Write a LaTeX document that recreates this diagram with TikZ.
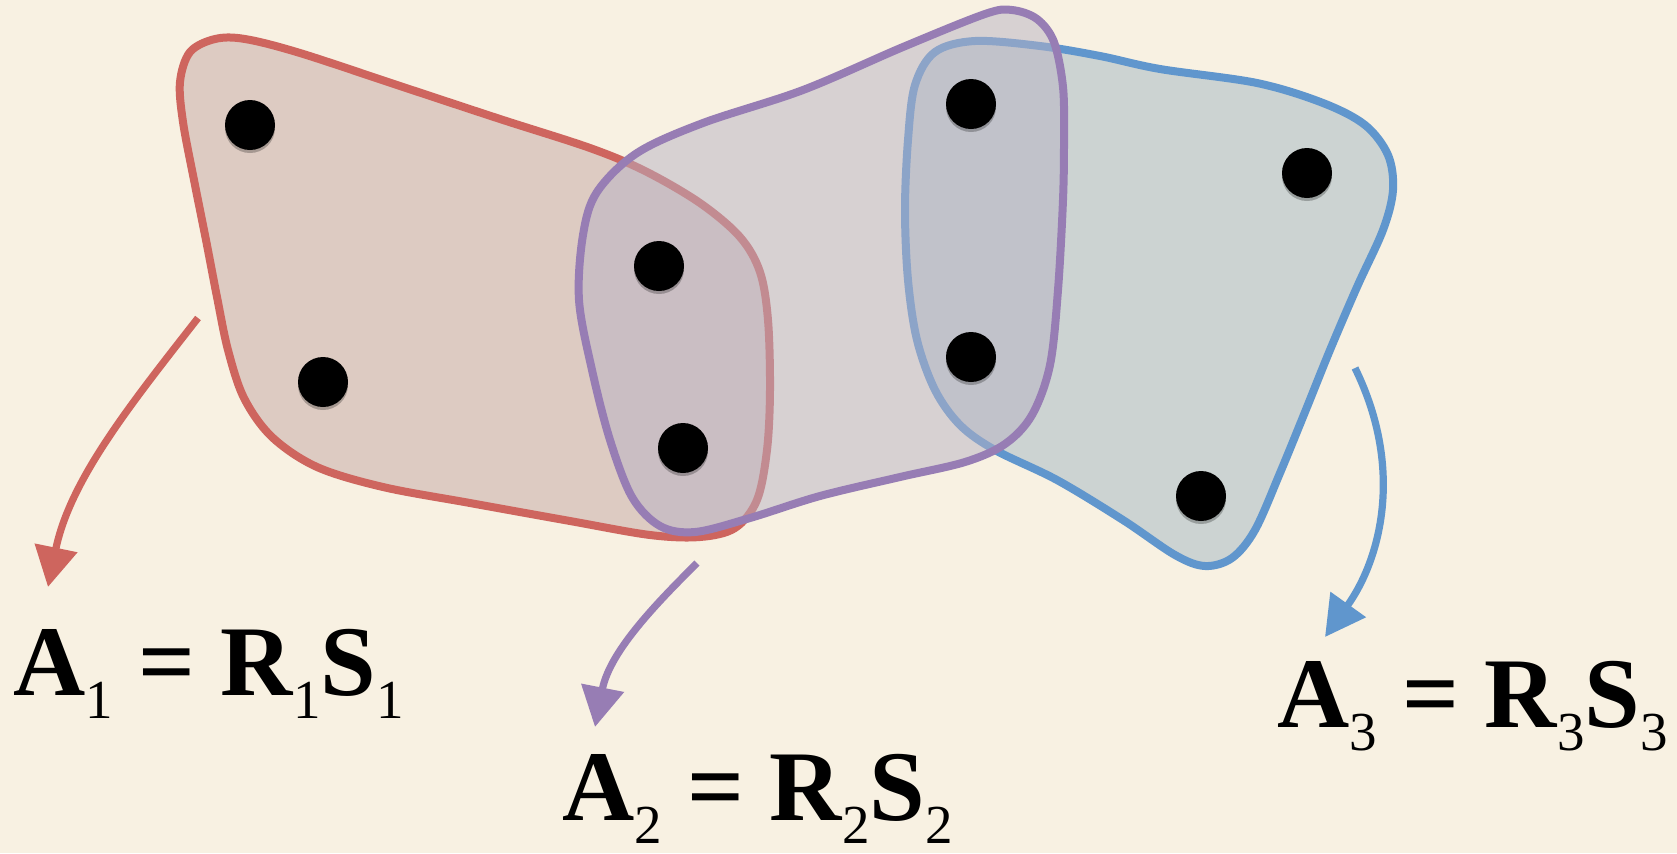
\documentclass[tikz,border=0pt]{standalone}
\usepackage{fontspec}
\setmainfont{Liberation Serif}
\usetikzlibrary{arrows.meta,shadows}
\definecolor{bg}{RGB}{248,241,226}
\definecolor{redL}{RGB}{206,101,94}
\definecolor{purL}{RGB}{151,125,180}
\definecolor{bluL}{RGB}{96,150,205}
\definecolor{redF}{RGB}{196,166,164}
\definecolor{purF}{RGB}{184,178,196}
\definecolor{bluF}{RGB}{162,182,196}
\newcommand{\sbx}[1]{\raisebox{-11.5pt}{\fontsize{27.5}{30}\selectfont\mdseries #1}}
\tikzset{
  region/.style={line width=4pt, fill opacity=0.5, line join=round},
  dot/.style={circle, fill=black, minimum size=25pt, inner sep=0pt,
    drop shadow={shadow xshift=0pt, shadow yshift=-1.5pt, opacity=0.25, fill=black}},
  conn/.style={line width=3.6pt, -{Triangle[length=20pt,width=21pt]}},
  lab/.style={anchor=base west, inner sep=0pt, font=\fontsize{50}{55}\selectfont}
}
\begin{document}
\begin{tikzpicture}[x=0.5pt,y=-0.5pt]
\useasboundingbox (0,0) rectangle (1677,853);
\fill[bg] (0,0) rectangle (1677,853);

% red region
\draw[region, draw=redL, fill=redF] plot[smooth cycle, tension=0.55] coordinates {
 (190,52) (215,39) (245,39) (300,53) (400,86) (500,119) (590,148) (645,171)
 (700,203) (740,237) (760,272) (768,320) (770,390) (767,450) (757,500) (735,528)
 (700,537) (650,535) (570,521) (470,503) (383,487) (317,467) (272,437) (244,398)
 (228,350) (217,297) (206,240) (194,180) (183,122) (180,82)};

% blue region
\draw[region, draw=bluL, fill=bluF] plot[smooth cycle, tension=0.55] coordinates {
 (935,52) (975,41) (1040,46) (1100,56) (1160,69) (1257,83) (1323,103) (1365,125)
 (1388,155) (1393,190) (1383,230) (1357,287) (1330,350) (1305,412) (1280,473)
 (1255,530) (1232,558) (1205,566) (1175,555) (1123,520) (1057,480) (995,450)
 (960,425) (935,390) (917,340) (908,280) (905,210) (908,140) (915,85)};

% purple region
\draw[region, draw=purL, fill=purF] plot[smooth cycle, tension=0.55] coordinates {
 (579,300) (583,235) (597,192) (637,153) (703,123) (803,90) (903,47)
 (985,14) (1012,10) (1037,19) (1054,42) (1063,87) (1064,140) (1063,200)
 (1058,290) (1050,365) (1032,415) (1005,444) (965,462) (900,477) (820,496)
 (750,518) (695,532) (660,526) (632,497) (610,440) (592,370)};

% dots
\node[dot] (d1) at (250,125) {};
\node[dot] (d2) at (323,382) {};
\node[dot] (d3) at (659,266) {};
\node[dot] (d4) at (683,448) {};
\node[dot] (d5) at (971,104) {};
\node[dot] (d6) at (971,357) {};
\node[dot] (d7) at (1307,173) {};
\node[dot] (d8) at (1201,496) {};

% labels
\node[lab] (lab1) at (13,695) {\textbf{A}\sbx{1} \textbf{=} \textbf{R}\sbx{1}\textbf{S}\sbx{1}};
\node[lab] (lab2) at (562,820) {\textbf{A}\sbx{2} \textbf{=} \textbf{R}\sbx{2}\textbf{S}\sbx{2}};
\node[lab] (lab3) at (1277,727) {\textbf{A}\sbx{3} \textbf{=} \textbf{R}\sbx{3}\textbf{S}\sbx{3}};

% arrows
\coordinate (r0) at (198,318);
\coordinate (r1) at (48,587);
\coordinate (p0) at (697,563);
\coordinate (p1) at (595,727);
\coordinate (b0) at (1355,368);
\coordinate (b1) at (1325,637);
\draw[conn, redL] (r0) .. controls (130,405) and (70,480) .. (r1);
\draw[conn, purL] (p0) .. controls (660,600) and (610,650) .. (p1);
\draw[conn, bluL] (b0) .. controls (1405,470) and (1380,560) .. (b1);
\end{tikzpicture}
\end{document}
